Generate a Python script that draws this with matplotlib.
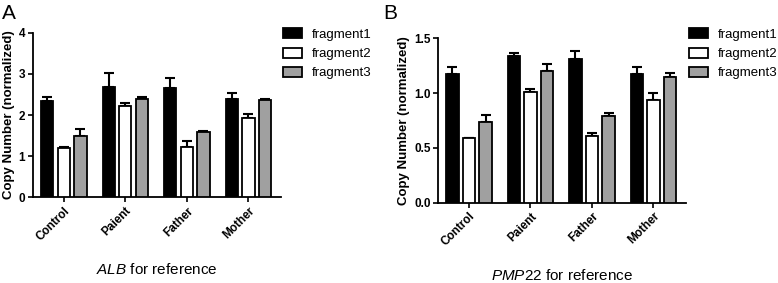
import matplotlib
matplotlib.use("Agg")
import matplotlib.pyplot as plt
import numpy as np
from matplotlib.patches import Patch

plt.rcParams['font.family'] = ['Liberation Sans', 'DejaVu Sans']
plt.rcParams['mathtext.fontset'] = 'custom'
plt.rcParams['mathtext.it'] = 'Liberation Sans:italic'
plt.rcParams['mathtext.rm'] = 'Liberation Sans'

groups = ["Control", "Paient", "Father", "Mother"]
series = ["fragment1", "fragment2", "fragment3"]
colors = ["#000000", "#ffffff", "#a0a0a0"]

alb_vals = [[2.35, 2.69, 2.65, 2.40],
            [1.19, 2.22, 1.23, 1.92],
            [1.49, 2.38, 1.59, 2.36]]
alb_err = [[0.08, 0.33, 0.26, 0.13],
           [0.03, 0.08, 0.13, 0.10],
           [0.16, 0.05, 0.01, 0.04]]

pmp_vals = [[1.17, 1.34, 1.31, 1.17],
            [0.59, 1.01, 0.61, 0.94],
            [0.74, 1.20, 0.79, 1.15]]
pmp_err = [[0.07, 0.03, 0.07, 0.07],
           [0.00, 0.03, 0.03, 0.06],
           [0.06, 0.07, 0.03, 0.03]]

fig = plt.figure(figsize=(7.78, 2.83), dpi=100)

def panel(rect, vals, errs, ylim, yticks, yticklabels, xlabel, letter, letter_x, legend_x):
    ax = fig.add_axes(rect)
    x = np.arange(len(groups))
    for i in range(3):
        pos = x + (i - 1) * 0.27
        ax.bar(pos, vals[i], width=0.2, color=colors[i], edgecolor="black",
               linewidth=1.3, zorder=3)
        ax.errorbar(pos, vals[i], yerr=[np.zeros(len(groups)), errs[i]],
                    fmt="none", ecolor="black", elinewidth=1.5, capsize=3.5,
                    capthick=1.5, zorder=2)
    ax.set_xlim(-0.5, 3.53)
    ax.set_ylim(*ylim)
    ax.set_yticks(yticks)
    ax.set_yticklabels(yticklabels, fontweight="bold", fontsize=8.5)
    ax.set_xticks(x)
    ax.set_xticklabels(groups, rotation=45, ha="right", rotation_mode="anchor",
                       fontweight="bold", fontsize=8.5)
    ax.spines["top"].set_visible(False)
    ax.spines["right"].set_visible(False)
    for s in ["left", "bottom"]:
        ax.spines[s].set_linewidth(1.3)
    ax.tick_params(axis="both", width=1.2, length=3.5, pad=2)
    ax.set_ylabel("Copy Number (normalized)", fontweight="bold", fontsize=9.5, labelpad=3)
    ax.set_xlabel(xlabel, fontsize=11, labelpad=14)
    fig.text(letter_x, 0.985, letter, fontsize=15, va="top", ha="left")
    handles = [Patch(facecolor=c, edgecolor="black", linewidth=1.3) for c in colors]
    fig.legend(handles, series, loc="upper left", bbox_to_anchor=(legend_x, 0.90),
               frameon=False, fontsize=9.5, handlelength=1.45, handleheight=0.8,
               handletextpad=0.75, labelspacing=0.5, borderpad=0, borderaxespad=0)
    return ax

panel([33/778, 1 - 197.3/283, 248/778, 164.6/283], alb_vals, alb_err, (0, 4),
      [0, 1, 2, 3, 4], ["0", "1", "2", "3", "4"],
      r"$\mathit{ALB}$ for reference", "A", 0.002, 283/778)
panel([438.3/778, 1 - 202.7/283, 247.7/778, 164.4/283], pmp_vals, pmp_err, (0, 1.5),
      [0, 0.5, 1.0, 1.5], ["0.0", "0.5", "1.0", "1.5"],
      r"$\mathit{PMP22}$ for reference", "B", 383/778, 689/778)

fig.savefig("out.png", dpi=100)
